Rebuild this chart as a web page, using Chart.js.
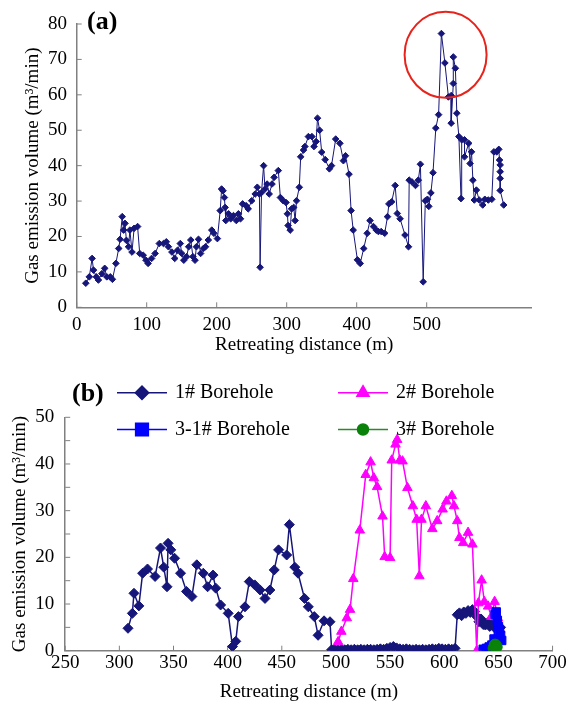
<!DOCTYPE html>
<html>
<head>
<meta charset="utf-8">
<script src="https://cdn.jsdelivr.net/npm/chart.js@4.4.1/dist/chart.umd.min.js"></script>
<style>
  html, body { margin: 0; padding: 0; background: #fff; }
  #wrap { position: relative; width: 568px; height: 707px; overflow: hidden; }
  canvas { position: absolute; left: 0; }
  #chartA { top: 0; }
  #chartB { top: 370px; }
  .panel { position: absolute; font: bold 26px 'Liberation Serif', serif; line-height: 26px; color: #000; }
</style>
</head>
<body>
<div id="wrap">
  <canvas id="chartA" width="568" height="370"></canvas>
  <canvas id="chartB" width="568" height="337"></canvas>
  <div class="panel" style="left:87px;top:8px">(a)</div>
  <div class="panel" style="left:72px;top:380px">(b)</div>
</div>
<script>
// ---- (a) working face, whole retreat ----
const distanceA = [13, 18, 22, 24, 28, 31, 36, 40, 43, 48, 51, 56, 60, 62, 65, 67, 69, 71, 74, 76,
  79, 82, 87, 90, 95, 99, 102, 107, 112, 118, 124, 128, 131, 136, 140, 144, 148, 150, 153, 157,
  160, 163, 166, 169, 171, 174, 177, 181, 184, 188, 193, 196, 201, 205, 207, 209, 211, 212, 213, 217,
  220, 224, 228, 231, 234, 237, 242, 245, 250, 255, 258, 261, 262, 264, 267, 269, 272, 275, 279, 282,
  288, 291, 295, 299, 301, 302, 305, 307, 310, 312, 314, 318, 320, 324, 326, 331, 336, 339, 342, 344,
  347, 350, 355, 361, 364, 370, 376, 381, 384, 389, 392, 395, 401, 405, 410, 415, 419, 424, 428, 431,
  435, 440, 444, 446, 450, 455, 458, 462, 469, 474, 475, 479, 484, 488, 491, 495, 498, 501, 503, 506,
  509, 513, 517, 521, 526, 531, 535, 535, 538, 538, 541, 543, 546, 549, 550, 554, 554, 560, 562, 564,
  566, 568, 571, 575, 580, 583, 588, 593, 596, 600, 603, 604, 605, 605, 605, 605, 610];
const volumeA = [6.8, 8.6, 13.8, 10.5, 8.6, 7.7, 9.5, 11, 8.6, 8.6, 7.9, 12.4, 16.6, 19.2, 25.6, 21.8, 23.7, 18.9, 17.1, 21.8,
  15.6, 22.3, 22.8, 15.2, 14.7, 13.3, 12.4, 13.8, 15.2, 18, 18, 18.5, 17.1, 15.6, 13.8, 16.1, 18, 15.2, 13.3, 14.3,
  17.1, 19, 14.3, 13.3, 17.1, 19.2, 15.2, 16.6, 17.1, 19, 21.8, 20.9, 19.4, 27.3, 33.4, 32.9, 31, 28.2, 24.5, 26.4,
  25, 25.9, 24.5, 26.4, 25, 29.2, 28.7, 27.8, 30.1, 32, 33.9, 32, 11.3, 32.4, 40, 33.4, 34.8, 32, 34.8, 36.7,
  38.6, 31, 30.1, 29.6, 26.4, 23.1, 21.8, 27.8, 28.2, 24.5, 30.1, 33.9, 42.5, 44.4, 45.4, 48.2, 48.2, 45.4, 46.8, 53.4,
  50, 43.8, 41.7, 39.1, 40, 47.5, 46.3, 41.4, 42.8, 37.6, 27.3, 21.8, 13.4, 12.4, 16.6, 20.9, 24.5, 22.8, 21.8, 21.4,
  21.4, 20.9, 25.6, 29.2, 29.8, 34.4, 26.5, 25, 20.4, 17.1, 35.9, 35.4, 34.4, 35.9, 40.4, 7.2, 30.1, 30.5, 28.5, 32.3,
  38, 50.6, 54.4, 77.3, 69, 59.4, 59.8, 52, 63.2, 70.7, 67.5, 54.8, 48.2, 30.7, 47.3, 47.3, 42.5, 46.3, 40.6, 43.9,
  35.9, 30.3, 33.1, 30.3, 28.9, 30.5, 30.3, 30.5, 43.9, 43.9, 44.6, 41.6, 40.2, 38.3, 36.4, 33, 28.9];

// highlighted peak (red ring), in data units
const peakX = 527;
const peakY = 71.3;

// ---- (b) boreholes ----
const boreholeLabels = ['1# Borehole', '2# Borehole', '3-1# Borehole', '3# Borehole'];

const distance1 = [308, 312, 313.5, 318, 321.5, 326, 333, 338, 341, 344, 345, 347.5, 351, 356.5, 362, 367, 371.5, 377.5, 381.5, 386.5,
  389, 393.5, 400.5, 404.5, 407.5, 410, 416, 420, 425, 430, 434.5, 439, 443, 447, 454.5, 457, 462, 465, 471, 474.5,
  480, 483.5, 489, 494.5, 496, 499, 502, 505, 508, 511, 514, 517, 520, 523, 526, 529, 532, 535, 538, 541,
  544, 547, 550, 553, 556, 559, 562, 565, 568, 571, 574, 577, 580, 583, 586, 589, 592, 595, 598, 601,
  604, 607, 610, 612, 614, 616, 618, 620, 622, 624, 626, 628, 630, 632, 634, 636, 638, 640, 642, 644,
  646, 648, 650, 652];
const volume1 = [4.8, 8, 12.3, 9.6, 16.6, 17.5, 15.9, 22, 17.9, 13.7, 23, 21.6, 19.8, 16.6, 12.7, 11.6, 18.4, 16.6, 13.7, 16.2,
  13.4, 9.8, 8, 0.9, 2, 7.3, 9.4, 14.8, 14.1, 13, 11.2, 13, 17.3, 21.6, 20.5, 27, 17.9, 16.6, 11.2, 9.4,
  7.3, 3.3, 6.4, 6.2, 0.2, 0.3, 0.2, 0.3, 0.2, 0.3, 0.2, 0.3, 0.2, 0.3, 0.2, 0.3, 0.3, 0.2, 0.3, 0.4,
  0.3, 0.5, 0.7, 0.9, 0.6, 0.4, 0.3, 0.4, 0.3, 0.2, 0.3, 0.2, 0.3, 0.2, 0.3, 0.4, 0.3, 0.5, 0.4, 0.3,
  0.4, 0.3, 0.5, 7.7, 8.1, 7.5, 8.3, 8, 8.6, 8.2, 8.8, 8.4, 7.3, 6.2, 6.8, 5.6, 5.5, 6, 5.2, 5.6,
  5, 5.4, 4.8, 5];

const distance2 = [502, 505, 510, 513, 516, 522, 527.5, 532, 535, 538, 543, 545, 550, 551.5, 555, 556.5, 559, 561.5, 566, 571,
  574.5, 577, 579, 583, 589, 593.5, 598.5, 602, 607, 609, 612, 614, 617.5, 622, 626, 630, 631.5, 634.5, 637, 640.5,
  643.5, 646.5, 649.5, 651.5];
const volume2 = [1.9, 4.1, 7, 8.8, 15.4, 25.8, 37.7, 40.4, 37, 35.1, 28.8, 20.1, 19.9, 40.8, 44.2, 45.2, 40.8, 40.6, 34.9, 31,
  28.1, 16, 28.1, 31, 26.1, 27.8, 30.3, 32, 33.2, 31, 27.8, 24.2, 23.1, 25.3, 22.8, 0, 10.2, 15.1, 10.5, 9.5,
  7.3, 10.5, 7, 4.5];

const distance31 = [636, 639, 641.5, 644, 646, 647, 648, 649, 650, 651, 652, 653];
const volume31 = [0.3, 0.5, 0.8, 1.2, 2.5, 7.8, 8.3, 6.5, 5.2, 4.2, 3.3, 2.2];

const distance3 = [646, 647, 648];
const volume3 = [0.5, 1.2, 0.8];

const axisColor = '#808080';
const toPoints = (xs, ys) => xs.map((x, i) => ({ x: x, y: ys[i] }));

Chart.defaults.font.family = "'Liberation Serif', 'Times New Roman', serif";
Chart.defaults.font.size = 19;
Chart.defaults.color = '#000';

// small tick marks pointing into the plot, like the original figure
const insideTicks = {
    id: 'insideTicks',
    beforeDatasetsDraw(chart) {
        const ctx = chart.ctx;
        const len = 5;
        ctx.save();
        ctx.strokeStyle = axisColor;
        ctx.lineWidth = 1;
        Object.values(chart.scales).forEach(scale => {
            scale.ticks.forEach(t => {
                const p = scale.getPixelForValue(t.value);
                ctx.beginPath();
                if (scale.isHorizontal()) {
                    ctx.moveTo(p, scale.top);
                    ctx.lineTo(p, scale.top - len);
                } else {
                    ctx.moveTo(scale.right, p);
                    ctx.lineTo(scale.right + len, p);
                }
                ctx.stroke();
            });
        });
        ctx.restore();
    }
};

// red ring round the peak in (a)
const peakRing = {
    id: 'peakRing',
    afterDatasetsDraw(chart) {
        const ctx = chart.ctx;
        const cx = chart.scales.x.getPixelForValue(peakX);
        const cy = chart.scales.y.getPixelForValue(peakY);
        ctx.save();
        ctx.strokeStyle = '#e8231c';
        ctx.lineWidth = 2;
        ctx.beginPath();
        ctx.ellipse(cx, cy, 41, 43, 0, 0, Math.PI * 2);
        ctx.stroke();
        ctx.restore();
    }
};

function drawMarker(ctx, style, r, x, y) {
    if (Chart.helpers && Chart.helpers.drawPoint) {
        Chart.helpers.drawPoint(ctx, { pointStyle: style, radius: r, borderWidth: 1, rotation: 0 }, x, y);
        return;
    }
    ctx.beginPath();
    ctx.arc(x, y, r, 0, Math.PI * 2);
    ctx.fill();
}

// two-column legend sitting inside the top of (b)
const boreholeLegend = {
    id: 'boreholeLegend',
    afterDraw(chart, args, opts) {
        const ctx = chart.ctx;
        ctx.save();
        ctx.font = "20px 'Liberation Serif', serif";
        ctx.textBaseline = 'middle';
        ctx.textAlign = 'left';
        opts.order.forEach((dsIndex, i) => {
            const ds = chart.data.datasets[dsIndex];
            const x0 = opts.colX[i % 2];
            const y = opts.rowY[Math.floor(i / 2)];
            ctx.strokeStyle = ds.borderColor;
            ctx.lineWidth = 1.5;
            ctx.beginPath();
            ctx.moveTo(x0, y);
            ctx.lineTo(x0 + opts.lineLen, y);
            ctx.stroke();
            ctx.fillStyle = ds.pointBackgroundColor;
            ctx.strokeStyle = ds.pointBorderColor;
            drawMarker(ctx, ds.pointStyle, opts.markerR[dsIndex], x0 + opts.lineLen / 2, y);
            ctx.fillStyle = '#000';
            ctx.fillText(ds.label, x0 + opts.lineLen + 8, y);
        });
        ctx.restore();
    }
};

// Chart (a)
new Chart(document.getElementById('chartA'), {
    type: 'scatter',
    data: {
        datasets: [{
            label: 'Gas emission',
            data: toPoints(distanceA, volumeA),
            showLine: true,
            borderColor: '#16167a',
            borderWidth: 1,
            pointStyle: 'rectRot',
            pointRadius: 3.3,
            pointBackgroundColor: '#16167a',
            pointBorderColor: '#16167a',
            pointBorderWidth: 1
        }]
    },
    options: {
        responsive: false,
        animation: false,
        layout: { padding: { left: 0, top: 24, right: 36.3, bottom: 0 } },
        plugins: { legend: { display: false }, tooltip: { enabled: false } },
        scales: {
            x: {
                type: 'linear', min: 0, max: 650,
                afterBuildTicks: s => { s.ticks = s.ticks.filter(t => t.value % 100 === 0); },
                afterFit: s => { s.height = 62.7; },
                grid: { display: false, drawTicks: false },
                border: { display: true, color: axisColor, width: 1.5 },
                ticks: { stepSize: 100, padding: 6, maxRotation: 0, autoSkip: false },
                title: { display: true, text: 'Retreating distance (m)', padding: { top: 0, bottom: 13.6 } }
            },
            y: {
                min: 0, max: 80,
                afterFit: s => { s.width = 76.7; },
                grid: { display: false, drawTicks: false },
                border: { display: true, color: axisColor, width: 1.5 },
                ticks: { stepSize: 10, padding: 9.7 },
                title: { display: true, text: 'Gas emission volume (m³/min)', padding: { top: 21.5, bottom: 0 } }
            }
        }
    },
    plugins: [insideTicks, peakRing]
});

// Chart (b)
new Chart(document.getElementById('chartB'), {
    type: 'scatter',
    data: {
        datasets: [{
            label: boreholeLabels[0],
            data: toPoints(distance1, volume1),
            showLine: true, order: 3,
            borderColor: '#16167a', borderWidth: 1.5,
            pointStyle: 'rectRot', pointRadius: 5,
            pointBackgroundColor: '#16167a', pointBorderColor: '#16167a', pointBorderWidth: 1
        }, {
            label: boreholeLabels[1],
            data: toPoints(distance2, volume2),
            showLine: true, order: 2,
            borderColor: '#ff00ff', borderWidth: 1.5,
            pointStyle: 'triangle', pointRadius: 5.5,
            pointBackgroundColor: '#ff00ff', pointBorderColor: '#ff00ff', pointBorderWidth: 1
        }, {
            label: boreholeLabels[2],
            data: toPoints(distance31, volume31),
            showLine: true, order: 1,
            borderColor: '#0000ff', borderWidth: 1.5,
            pointStyle: 'rect', pointRadius: 6,
            pointBackgroundColor: '#0000ff', pointBorderColor: '#0000ff', pointBorderWidth: 1
        }, {
            label: boreholeLabels[3],
            data: toPoints(distance3, volume3),
            showLine: true, order: 0,
            borderColor: '#2a8a2a', borderWidth: 1.5,
            pointStyle: 'circle', pointRadius: 6,
            pointBackgroundColor: '#0a820a', pointBorderColor: '#0a820a', pointBorderWidth: 1
        }]
    },
    options: {
        responsive: false,
        animation: false,
        layout: { padding: { left: 0, top: 47.3, right: 15.2, bottom: 0 } },
        plugins: {
            legend: { display: false },
            tooltip: { enabled: false },
            boreholeLegend: {
                order: [0, 1, 2, 3],
                colX: [117, 338],
                rowY: [22.7, 59.5],
                lineLen: 50,
                markerR: [6.7, 7, 9, 5.5]
            }
        },
        scales: {
            x: {
                type: 'linear', min: 250, max: 700,
                afterFit: s => { s.height = 56.3; },
                grid: { display: false, drawTicks: false },
                border: { display: true, color: axisColor, width: 1.5 },
                ticks: { stepSize: 50, padding: 1.2, maxRotation: 0, autoSkip: false },
                title: { display: true, text: 'Retreating distance (m)', padding: { top: 0, bottom: 3.6 } }
            },
            y: {
                min: 0, max: 50,
                afterFit: s => { s.width = 65.2; },
                grid: { display: false, drawTicks: false },
                border: { display: true, color: axisColor, width: 1.5 },
                ticks: { stepSize: 5, padding: 11, autoSkip: false, callback: v => (v % 10 === 0 ? v : '') },
                title: { display: true, text: 'Gas emission volume (m³/min)', padding: { top: 8.6, bottom: 0 } }
            }
        }
    },
    plugins: [insideTicks, boreholeLegend]
});
</script>
</body>
</html>
